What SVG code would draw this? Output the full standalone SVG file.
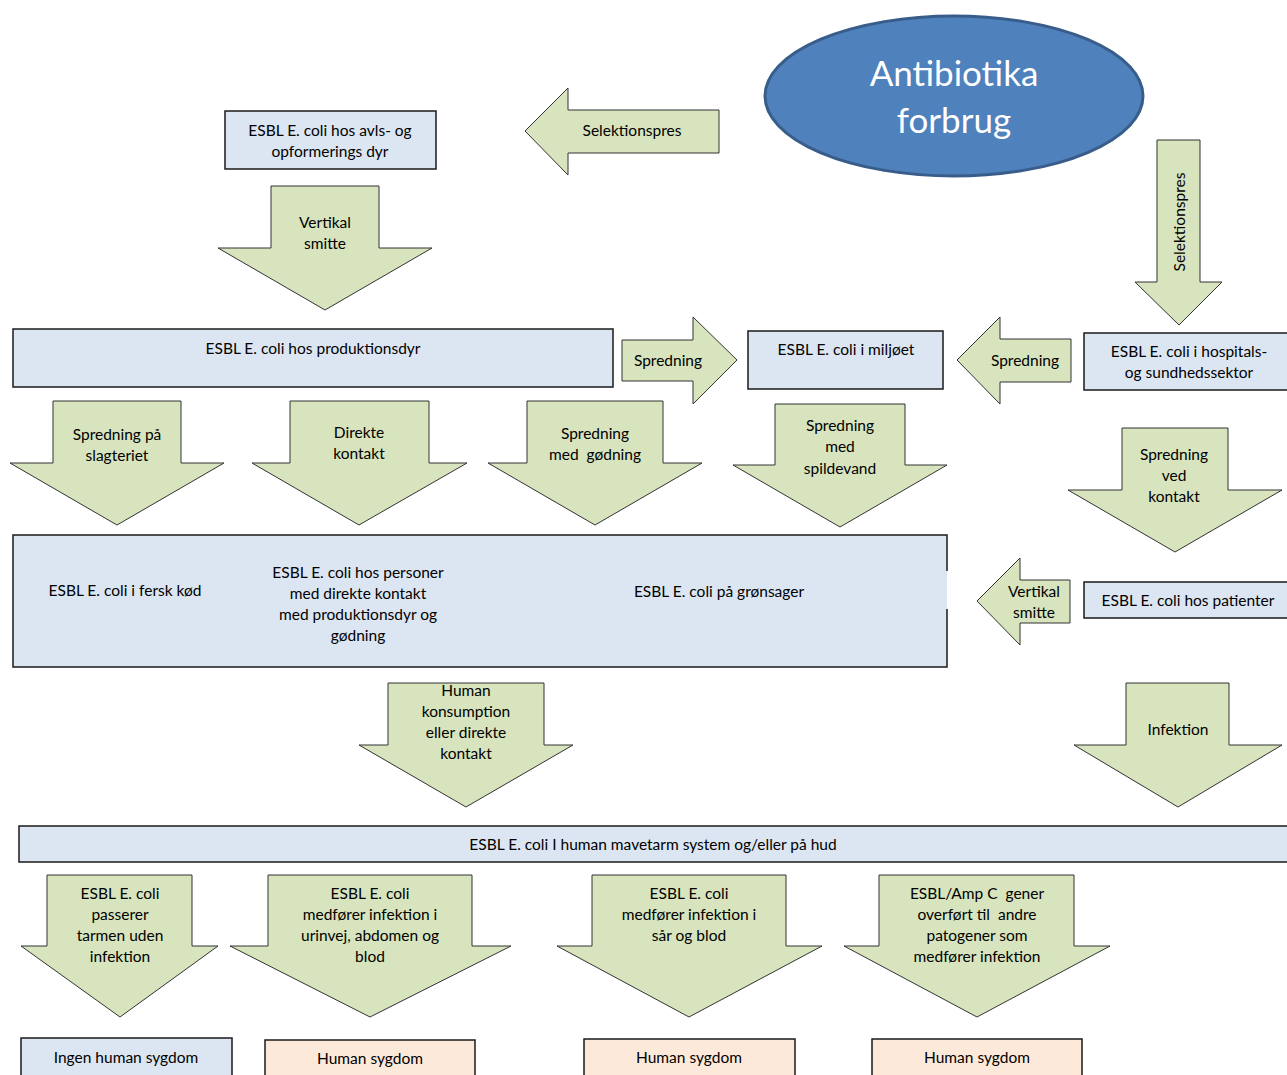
<svg xmlns="http://www.w3.org/2000/svg" width="1287" height="1075" viewBox="0 0 1287 1075">
<style>
.box{fill:#dce6f2;stroke:#1a1a1a;stroke-width:1.5}
.pink{fill:#fde9d9;stroke:#1a1a1a;stroke-width:1.5}
.arr{fill:#d7e4bd;stroke:#333;stroke-width:1}
text{font-family:Lato,"Open Sans","Liberation Sans",sans-serif;font-size:15.5px;fill:#000;text-anchor:middle}
.pre{white-space:pre}
.big{font-size:35px;fill:#fff}
</style>
<rect width="1287" height="1075" fill="#fff"/>
<g id="connectors">
<g id="a-selek-left"><path class="arr" d="M525,131 L568,88 L568,110 L719,110 L719,153 L568,153 L568,175 Z"/><text x="632" y="136">Selektionspres</text></g>
<g id="a-selek-down"><path class="arr" d="M1157,140 L1200,140 L1200,282 L1222,282 L1179,325 L1135,282 L1157,282 Z"/><text transform="translate(1185,222) rotate(-90)">Selektionspres</text></g>
<g id="a-vert1"><path class="arr" d="M271,186 L379,186 L379,248 L432,248 L325,310 L218,248 L271,248 Z"/><text x="325" y="228">Vertikal</text><text x="325" y="249">smitte</text></g>
<g id="a-spr-right"><path class="arr" d="M622,340 L693,340 L693,317 L737,360 L693,404 L693,381 L622,381 Z"/><text x="668" y="366">Spredning</text></g>
<g id="a-spr-left"><path class="arr" d="M957,360 L1000,317 L1000,339 L1071,339 L1071,382 L1000,382 L1000,404 Z"/><text x="1025" y="366">Spredning</text></g>
<g id="a-slagt"><path class="arr" d="M53,401 L181,401 L181,463 L224,463 L117,525 L10,463 L53,463 Z"/><text x="117" y="440">Spredning på</text><text x="117" y="461">slagteriet</text></g>
<g id="a-direkte"><path class="arr" d="M290,401 L429,401 L429,463 L467,463 L359,525 L252,463 L290,463 Z"/><text x="359" y="438">Direkte</text><text x="359" y="459">kontakt</text></g>
<g id="a-godning"><path class="arr" d="M527,401 L663,401 L663,463 L702,463 L595,525 L488,463 L527,463 Z"/><text x="595" y="439">Spredning</text><text class="pre" x="595" y="460">med  gødning</text></g>
<g id="a-spild"><path class="arr" d="M775,404 L905,404 L905,465 L947,465 L840,527 L733,465 L775,465 Z"/><text x="840" y="431">Spredning</text><text x="840" y="452">med</text><text x="840" y="474">spildevand</text></g>
<g id="a-kontakt"><path class="arr" d="M1122,428 L1228,428 L1228,490 L1282,490 L1175,552 L1068,490 L1122,490 Z"/><text x="1174" y="460">Spredning</text><text x="1174" y="481">ved</text><text x="1174" y="502">kontakt</text></g>
<g id="a-vert2"><path class="arr" d="M977,601 L1020,558 L1020,580 L1070,580 L1070,623 L1020,623 L1020,645 Z"/><text x="1034" y="597">Vertikal</text><text x="1034" y="618">smitte</text></g>
<g id="a-konsum"><path class="arr" d="M388,683 L544,683 L544,745 L573,745 L466,807 L359,745 L388,745 Z"/><text x="466" y="696">Human</text><text x="466" y="717">konsumption</text><text x="466" y="738">eller direkte</text><text x="466" y="759">kontakt</text></g>
<g id="a-infektion"><path class="arr" d="M1126,683 L1229,683 L1229,745 L1282,745 L1178,807 L1074,745 L1126,745 Z"/><text x="1178" y="735">Infektion</text></g>
<g id="a-b1"><path class="arr" d="M47,875 L192,875 L192,946 L218,946 L120,1017 L21,946 L47,946 Z"/><text x="120" y="899">ESBL E. coli</text><text x="120" y="920">passerer</text><text x="120" y="941">tarmen uden</text><text x="120" y="962">infektion</text></g>
<g id="a-b2"><path class="arr" d="M268,875 L472,875 L472,946 L511,946 L370,1017 L230,946 L268,946 Z"/><text x="370" y="899">ESBL E. coli</text><text x="370" y="920">medfører infektion i</text><text x="370" y="941">urinvej, abdomen og</text><text x="370" y="962">blod</text></g>
<g id="a-b3"><path class="arr" d="M592,875 L786,875 L786,946 L822,946 L689,1017 L557,946 L592,946 Z"/><text x="689" y="899">ESBL E. coli</text><text x="689" y="920">medfører infektion i</text><text x="689" y="941">sår og blod</text></g>
<g id="a-b4"><path class="arr" d="M879,875 L1074,875 L1074,946 L1110,946 L977,1017 L844,946 L879,946 Z"/><text class="pre" x="977" y="899">ESBL/Amp C  gener</text><text class="pre" x="977" y="920">overført til  andre</text><text x="977" y="941">patogener som</text><text x="977" y="962">medfører infektion</text></g>
</g>
<g id="n-antibiotika"><ellipse cx="954" cy="96" rx="189" ry="80" fill="#4f81bd" stroke="#385d8a" stroke-width="3"/><text class="big" x="954" y="86">Antibiotika</text><text class="big" x="954" y="133">forbrug</text></g>
<g id="n-avls"><rect class="box" x="225" y="111" width="211" height="58"/><text x="330" y="136">ESBL E. coli hos avls- og</text><text x="330" y="157">opformerings dyr</text></g>
<g id="n-produktion"><rect class="box" x="13" y="329" width="600" height="58"/><text x="313" y="354">ESBL E. coli hos produktionsdyr</text></g>
<g id="n-miljo"><rect class="box" x="748" y="331" width="195" height="58"/><text x="846" y="355">ESBL E. coli i miljøet</text></g>
<g id="n-hospital"><rect class="box" x="1084" y="333" width="210" height="57"/><text x="1189" y="357">ESBL E. coli i hospitals-</text><text x="1189" y="378">og sundhedssektor</text></g>
<g id="n-middle"><rect x="13" y="535" width="934" height="132" fill="#dce6f2"/><path d="M947,571 L947,535 L13,535 L13,667 L947,667 L947,609" fill="none" stroke="#1a1a1a" stroke-width="1.5"/><text x="125" y="596">ESBL E. coli i fersk kød</text><text x="358" y="578">ESBL E. coli hos personer</text><text x="358" y="599">med direkte kontakt</text><text x="358" y="620">med produktionsdyr og</text><text x="358" y="641">gødning</text><text x="719" y="597">ESBL E. coli på grønsager</text></g>
<g id="n-patienter"><rect class="box" x="1084" y="582" width="210" height="36"/><text x="1188" y="606">ESBL E. coli hos patienter</text></g>
<g id="n-human"><rect class="box" x="19" y="826" width="1275" height="36"/><text x="653" y="850">ESBL E. coli I human mavetarm system og/eller på hud</text></g>
<g id="n-ingen"><rect class="box" x="21" y="1038" width="211" height="45"/><text x="126" y="1063">Ingen human sygdom</text></g>
<g id="n-syg1"><rect class="pink" x="265" y="1040" width="210" height="45"/><text x="370" y="1064">Human sygdom</text></g>
<g id="n-syg2"><rect class="pink" x="584" y="1039" width="211" height="45"/><text x="689" y="1063">Human sygdom</text></g>
<g id="n-syg3"><rect class="pink" x="872" y="1039" width="210" height="45"/><text x="977" y="1063">Human sygdom</text></g>
</svg>
